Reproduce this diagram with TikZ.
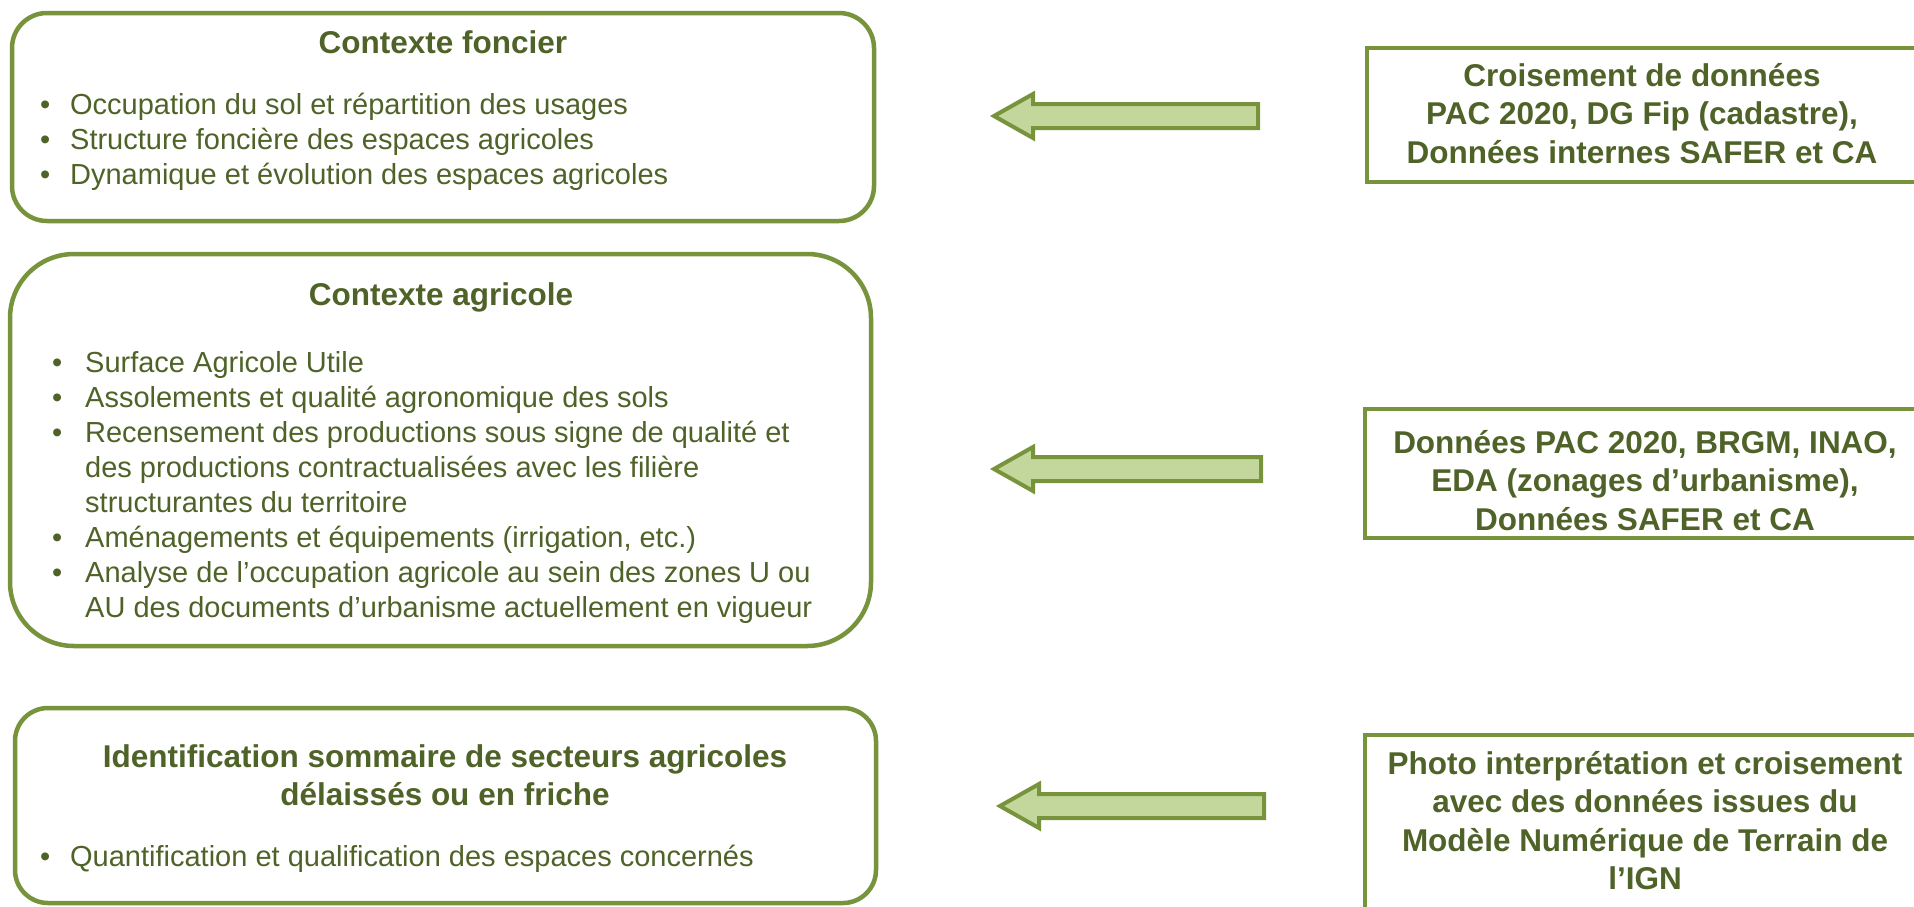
\documentclass[tikz,border=0pt]{standalone}
\usepackage{fontspec}
\setmainfont{Liberation Sans}
\definecolor{bord}{HTML}{77933C}
\definecolor{afill}{HTML}{C3D69B}
\definecolor{txt}{HTML}{4F6228}
\tikzset{
  roundbox/.style={draw=bord, line width=4.5pt, anchor=north west, inner sep=0pt, outer sep=0pt},
  srcbox/.style={draw=bord, line width=4.5pt, anchor=north west, inner sep=0pt, outer sep=0pt},
  blockarrow/.style={draw=bord, fill=afill, line width=4pt, line join=miter},
  titletext/.style={text=txt, font=\fontsize{31.5}{38.5}\selectfont\bfseries, inner sep=0pt, anchor=base},
  bodytext/.style={text=txt, font=\fontsize{29}{35}\selectfont, inner sep=0pt, anchor=base west},
}
\begin{document}
\begin{tikzpicture}[x=1pt, y=-1pt]
\useasboundingbox (0,0) rectangle (1914,906);
\fill[white] (0,0) rectangle (1914,906);

% left boxes
\node[roundbox, rounded corners=35pt, minimum width=862pt, minimum height=208pt] (b1) at (12,13) {};
\node[roundbox, rounded corners=64pt, minimum width=861pt, minimum height=392pt] (b2) at (10,254) {};
\node[roundbox, rounded corners=33pt, minimum width=861pt, minimum height=195pt] (b3) at (15,708) {};

% right boxes (cut by the page edge)
\node[srcbox, minimum width=560pt, minimum height=134pt] (r1) at (1367,48) {};
\node[srcbox, minimum width=560pt, minimum height=129pt] (r2) at (1365,409) {};
\node[srcbox, minimum width=560pt, minimum height=200pt] (r3) at (1365,735) {};

% block arrows
\draw[blockarrow] (994,116) -- (1033,94) -- (1033,104) -- (1258,104) -- (1258,128) -- (1033,128) -- (1033,138) -- cycle;
\draw[blockarrow] (994,469) -- (1033,447) -- (1033,457) -- (1261,457) -- (1261,481) -- (1033,481) -- (1033,491) -- cycle;
\draw[blockarrow] (1000,806) -- (1039,784) -- (1039,794) -- (1264,794) -- (1264,818) -- (1039,818) -- (1039,828) -- cycle;

% box 1 text
\node[titletext] (t1) at (443,53) {Contexte foncier};
\node[bodytext] (l1) at (40,114) {\begin{tabular}[t]{@{}p{30pt}@{}l@{}}
\textbullet & Occupation du sol et répartition des usages\\
\textbullet & Structure foncière des espaces agricoles\\
\textbullet & Dynamique et évolution des espaces agricoles
\end{tabular}};

% box 2 text
\node[titletext] (t2) at (441,305) {Contexte agricole};
\node[bodytext] (l2) at (52,372.5) {\begin{tabular}[t]{@{}p{33pt}@{}l@{}}
\textbullet & Surface Agricole Utile\\
\textbullet & Assolements et qualité agronomique des sols\\
\textbullet & Recensement des productions sous signe de qualité et\\
 & des productions contractualisées avec les filière\\
 & structurantes du territoire\\
\textbullet & Aménagements et équipements (irrigation, etc.)\\
\textbullet & Analyse de l’occupation agricole au sein des zones U ou\\
 & AU des documents d’urbanisme actuellement en vigueur
\end{tabular}};

% box 3 text
\node[titletext] (t3) at (445,767) {\begin{tabular}[t]{@{}c@{}}
Identification sommaire de secteurs agricoles\\
délaissés ou en friche
\end{tabular}};
\node[bodytext] (l3) at (40,866) {\begin{tabular}[t]{@{}p{30pt}@{}l@{}}
\textbullet & Quantification et qualification des espaces concernés
\end{tabular}};

% right box texts
\node[titletext] (s1) at (1642,86) {\begin{tabular}[t]{@{}c@{}}
Croisement de données\\
PAC 2020, DG Fip (cadastre),\\
Données internes SAFER et CA
\end{tabular}};
\node[titletext] (s2) at (1645,453) {\begin{tabular}[t]{@{}c@{}}
Données PAC 2020, BRGM, INAO,\\
EDA (zonages d’urbanisme),\\
Données SAFER et CA
\end{tabular}};
\node[titletext] (s3) at (1645,774) {\begin{tabular}[t]{@{}c@{}}
Photo interprétation et croisement\\
avec des données issues du\\
Modèle Numérique de Terrain de\\
l’IGN
\end{tabular}};
\end{tikzpicture}
\end{document}
